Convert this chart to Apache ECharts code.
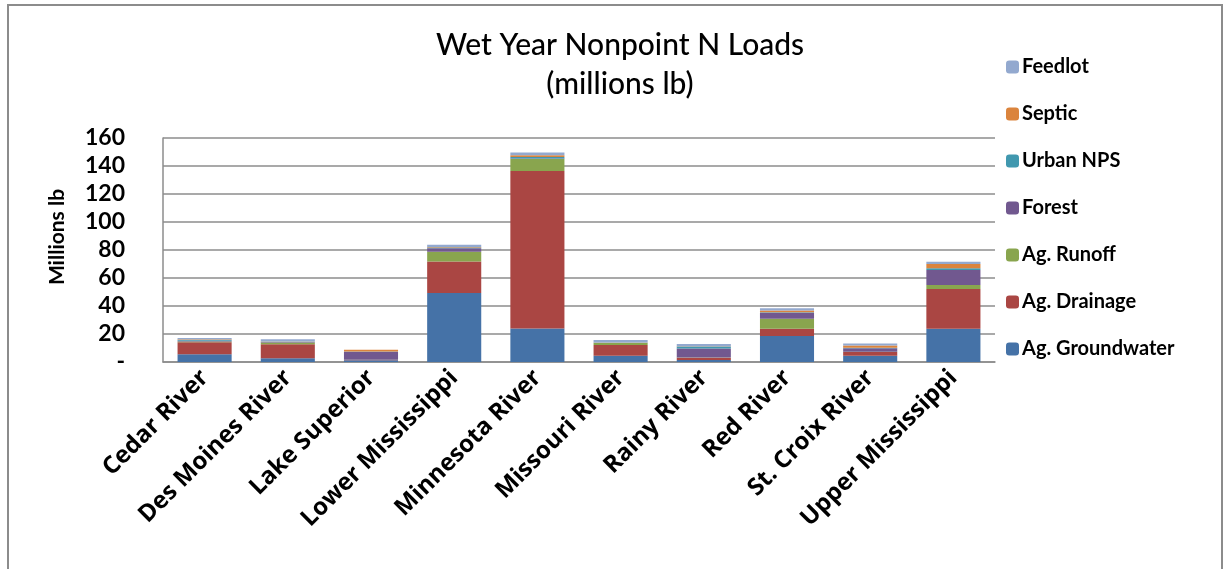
<!DOCTYPE html>
<html>
<head>
<meta charset="utf-8">
<style>
html,body{margin:0;padding:0;background:#fff;}
#chart{width:1231px;height:569px;}
</style>
<script src="https://cdn.jsdelivr.net/npm/echarts@6/dist/echarts.min.js"></script>
</head>
<body>
<div id="chart"></div>
<script>
const categories = ['Cedar River','Des Moines River','Lake Superior','Lower Mississippi','Minnesota River','Missouri River','Rainy River','Red River','St. Croix River','Upper Mississippi'];
const agGroundwater = [5.5, 2.6, 1.2, 49.3, 24.0, 4.5, 1.4, 18.6, 4.5, 23.8];
const agDrainage    = [8.6, 10.0, 0.3, 22.4, 112.4, 7.6, 1.6, 5.2, 2.6, 28.3];
const agRunoff      = [0.5, 1.4, 0.1, 7.1, 8.6, 1.4, 0.2, 7.1, 0.3, 2.9];
const forest        = [0.5, 0.2, 5.8, 2.4, 0.3, 0.1, 6.4, 4.3, 2.4, 10.7];
const urbanNPS      = [0.8, 0.3, 0.1, 0.5, 1.2, 0.2, 1.5, 0.4, 0.3, 1.2];
const septic        = [0.3, 0.2, 1.2, 0.4, 1.1, 0.1, 0.2, 1.2, 1.6, 3.1];
const feedlot       = [1.0, 1.5, 0.1, 1.6, 2.1, 1.8, 1.5, 1.6, 1.5, 1.6];
const seriesNames = ['Ag. Groundwater','Ag. Drainage','Ag. Runoff','Forest','Urban NPS','Septic','Feedlot'];
const seriesData = [agGroundwater, agDrainage, agRunoff, forest, urbanNPS, septic, feedlot];
const colors = ['#4572A7','#AA4643','#89A54E','#71588F','#4198AF','#DB843D','#93A9CF'];
const yTicks = [0,20,40,60,80,100,120,140,160];

const chart = echarts.init(document.getElementById('chart'));
const gridColor = '#8c8c8c';
chart.setOption({
  animation: false,
  color: colors,
  title: {
    text: 'Wet Year Nonpoint N Loads\n(millions lb)',
    left: 620, top: 26, padding: 0, textAlign: 'center',
    textStyle: { fontFamily: 'Lato', fontSize: 30, fontWeight: 500, color: '#000', lineHeight: 39 }
  },
  legend: {
    orient: 'vertical', left: 1006, top: 57, padding: 0,
    itemWidth: 13, itemHeight: 13, itemGap: 27,
    data: seriesNames.slice().reverse(),
    textStyle: { fontFamily: 'Lato', fontSize: 20, fontWeight: 'bold', color: '#000', lineHeight: 20, padding: [0,0,0,-2] }
  },
  grid: { left: 163, right: 236, top: 138, bottom: 207, containLabel: false },
  xAxis: {
    type: 'category', data: categories,
    axisLine: { lineStyle: { color: gridColor, width: 1.5 } },
    axisTick: { show: false },
    axisLabel: { rotate: 45, margin: 12, interval: 0, fontFamily: 'Open Sans', fontWeight: 'bold', fontSize: 24, color: '#000' }
  },
  yAxis: {
    type: 'value', min: 0, max: 160, interval: 20,
    axisLine: { show: true, lineStyle: { color: gridColor, width: 1.5 } },
    axisTick: { show: false },
    splitLine: { lineStyle: { color: gridColor, width: 1.5 } },
    axisLabel: { margin: 38, fontFamily: 'Lato', fontWeight: 'bold', fontSize: 23, color: '#000',
      formatter: v => (yTicks.indexOf(v) >= 0 ? (v === 0 ? '-' : String(v)) : '') }
  },
  graphic: [
    { type: 'rect', shape: { x: 8, y: 5, width: 1214, height: 580 }, style: { fill: 'none', stroke: '#8c8c8c', lineWidth: 2 }, silent: true },
    { type: 'text', x: 57, y: 237, rotation: Math.PI / 2,
      style: { text: 'Millions lb', fontFamily: 'Lato', fontWeight: 'bold', fontSize: 21, fill: '#000', align: 'center', verticalAlign: 'middle' } }
  ],
  series: seriesNames.map((n, i) => ({
    name: n, type: 'bar', stack: 'total', data: seriesData[i],
    barCategoryGap: '35%'
  }))
});
</script>
</body>
</html>
